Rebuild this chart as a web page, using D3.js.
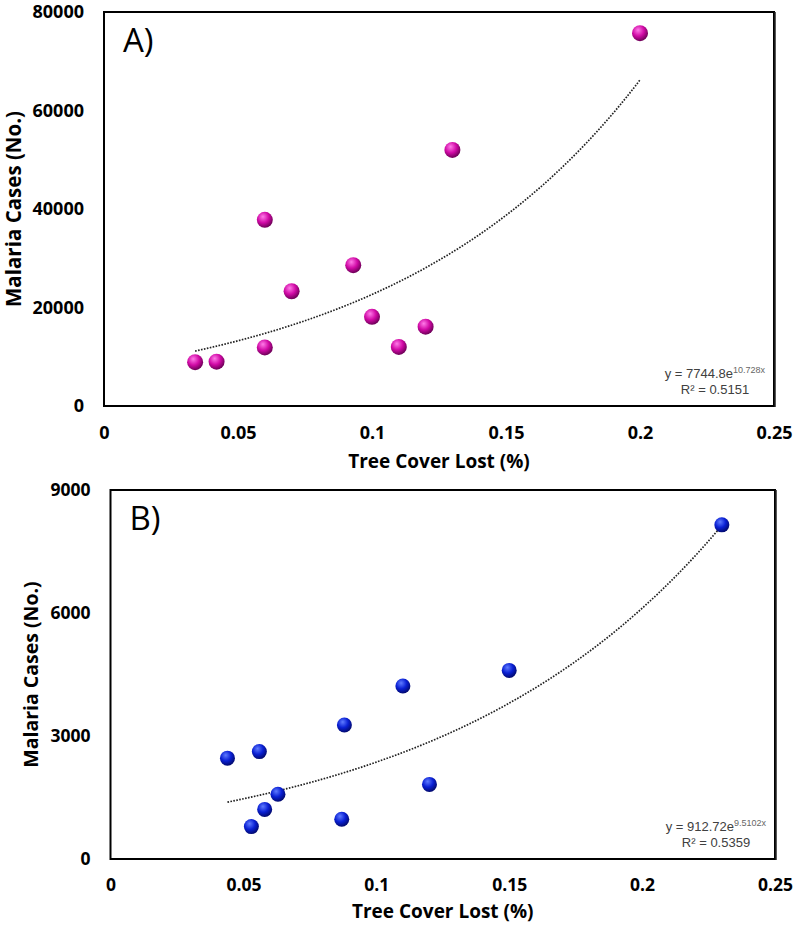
<!DOCTYPE html>
<html><head><meta charset="utf-8">
<script src="https://cdn.jsdelivr.net/npm/d3@7"></script>
<style>body{margin:0;background:#fff}svg{display:block}</style>
</head><body>
<script>
// Panel A data
const xA = [0.034, 0.042, 0.06, 0.06, 0.07, 0.093, 0.1, 0.11, 0.12, 0.13, 0.2];
const yA = [8900, 9000, 11900, 37800, 23300, 28600, 18100, 12000, 16100, 52000, 75700];
const fitA = {a: 7744.8, b: 10.728, r2: "0.5151", aText: "7744.8", bText: "10.728x"};
const yTicksA = [0, 20000, 40000, 60000, 80000];
// Panel B data
const xB = [0.044, 0.053, 0.056, 0.058, 0.063, 0.087, 0.088, 0.11, 0.12, 0.15, 0.23];
const yB = [2460, 790, 2620, 1210, 1580, 970, 3270, 4220, 1820, 4600, 8150];
const fitB = {a: 912.72, b: 9.5102, r2: "0.5359", aText: "912.72", bText: "9.5102x"};
const yTicksB = [0, 3000, 6000, 9000];
const xTicks = [0, 0.05, 0.1, 0.15, 0.2, 0.25];

const svg = d3.select("body").append("svg").attr("width", 800).attr("height", 927);
const defs = svg.append("defs");
function grad(id, c0, c1, c2) {
  const g = defs.append("radialGradient").attr("id", id)
    .attr("cx", "40%").attr("cy", "35%").attr("r", "65%").attr("fx", "38%").attr("fy", "30%");
  g.append("stop").attr("offset", "0%").attr("stop-color", c0);
  g.append("stop").attr("offset", "55%").attr("stop-color", c1);
  g.append("stop").attr("offset", "100%").attr("stop-color", c2);
}
grad("gA", "#ff7be8", "#d10aa6", "#6e0058");
grad("gB", "#5f7bff", "#0a20d4", "#020a70");

function panel(cfg) {
  const x = d3.scaleLinear().domain([0, 0.25]).range([cfg.left, cfg.right]);
  const y = d3.scaleLinear().domain([0, cfg.yMax]).range([cfg.bottom, cfg.top]);
  const g = svg.append("g");
  const ax = g.append("g").attr("transform", `translate(0,${cfg.bottom})`)
    .call(d3.axisBottom(x).tickValues(xTicks).tickSize(0).tickPadding(cfg.xPad).tickFormat(d => d3.format("")(d)));
  ax.select(".domain").remove();
  ax.selectAll("text").attr("font-family", "Open Sans").attr("font-weight", "bold").attr("font-size", cfg.tickFs).attr("fill", "#000");
  const ay = g.append("g").attr("transform", `translate(${cfg.left},0)`)
    .call(d3.axisLeft(y).tickValues(cfg.yTicks).tickSize(0).tickPadding(cfg.yPad).tickFormat(d3.format("d")));
  ay.select(".domain").remove();
  ay.selectAll("text").attr("font-family", "Open Sans").attr("font-weight", "bold").attr("font-size", cfg.tickFs).attr("fill", "#000");
  // frame
  g.append("rect").attr("x", cfg.left).attr("y", cfg.top).attr("width", cfg.right - cfg.left).attr("height", cfg.bottom - cfg.top)
    .attr("fill", "none").attr("stroke", "#000").attr("stroke-width", 2);
  g.append("line").attr("x1", cfg.right + 1).attr("x2", cfg.right + 1).attr("y1", cfg.top).attr("y2", cfg.bottom + 1)
    .attr("stroke", "#222").attr("stroke-width", 1.5);
  // trend line
  const xs = cfg.xs, lo = d3.min(xs), hi = d3.max(xs);
  const pts = d3.range(0, 101).map(i => lo + (hi - lo) * i / 100);
  g.append("path").datum(pts)
    .attr("d", d3.line().x(d => x(d)).y(d => y(cfg.fit.a * Math.exp(cfg.fit.b * d))))
    .attr("fill", "none").attr("stroke", "#222").attr("stroke-width", 1.7).attr("stroke-dasharray", "1.6,1.4");
  // points
  g.selectAll("circle.pt").data(xs.map((v, i) => [v, cfg.ys[i]])).join("circle")
    .attr("class", "pt").attr("cx", d => x(d[0])).attr("cy", d => y(d[1])).attr("r", cfg.r)
    .attr("fill", `url(#${cfg.grad})`);
  // panel label
  g.append("text").attr("x", cfg.left + 19).attr("y", cfg.top + 40).text(cfg.label)
    .attr("font-family", "Open Sans").attr("font-size", 33).attr("fill", "#000");
  // equation
  const eq = g.append("text").attr("x", cfg.right - 9).attr("y", cfg.bottom - 28).attr("text-anchor", "end")
    .attr("font-family", "Liberation Sans, Arial").attr("font-size", 13).attr("fill", "#404040");
  eq.append("tspan").text(`y = ${cfg.fit.aText}e`);
  eq.append("tspan").attr("dy", -5).attr("font-size", 9).attr("fill", "#666").text(cfg.fit.bText);
  g.append("text").attr("x", cfg.right - 59).attr("y", cfg.bottom - 12).attr("text-anchor", "middle")
    .attr("font-family", "Liberation Sans, Arial").attr("font-size", 13).attr("fill", "#404040")
    .text(`R² = ${cfg.fit.r2}`);
  // axis titles
  g.append("text").attr("x", (cfg.left + cfg.right) / 2).attr("y", cfg.xTitleY).attr("text-anchor", "middle")
    .attr("font-family", "Open Sans").attr("font-weight", "bold").attr("font-size", cfg.titleFs).text("Tree Cover Lost (%)");
  g.append("text").attr("transform", `translate(${cfg.yTitleX},${(cfg.top + cfg.bottom) / 2}) rotate(-90)`)
    .attr("text-anchor", "middle").attr("font-family", "Open Sans").attr("font-weight", "bold").attr("font-size", cfg.yTitleFs)
    .text("Malaria Cases (No.)");
}

panel({left: 104, right: 774, top: 12, bottom: 406, yMax: 80000, yTicks: yTicksA, xs: xA, ys: yA, fit: fitA,
  grad: "gA", r: 8, label: "A)", tickFs: 18, xPad: 20, yPad: 20, titleFs: 19, xTitleY: 468, yTitleX: 21, yTitleFs: 20.5});
panel({left: 110.5, right: 775, top: 490, bottom: 859, yMax: 9000, yTicks: yTicksB, xs: xB, ys: yB, fit: fitB,
  grad: "gB", r: 7.5, label: "B)", tickFs: 17.5, xPad: 20, yPad: 20, titleFs: 19, xTitleY: 918, yTitleX: 38, yTitleFs: 19.5});
</script>
</body></html>
